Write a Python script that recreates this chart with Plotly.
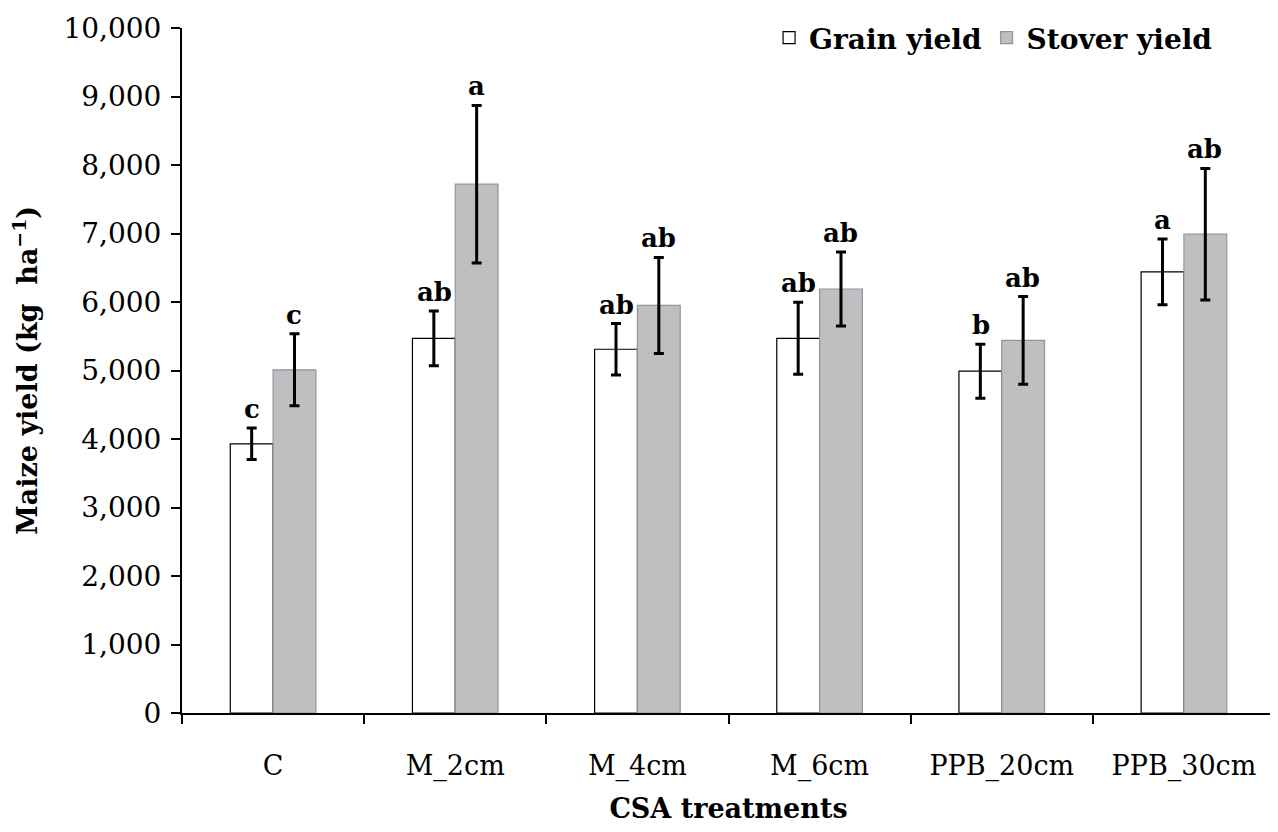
import plotly.graph_objects as go

categories = ["C", "M_2cm", "M_4cm", "M_6cm", "PPB_20cm", "PPB_30cm"]
grain = [3930, 5470, 5310, 5470, 4990, 6440]
grain_err = [230, 400, 375, 525, 395, 480]
stover = [5010, 7720, 5950, 6190, 5440, 6990]
stover_err = [525, 1150, 700, 540, 640, 960]
grain_letters = ["c", "ab", "ab", "ab", "b", "a"]
stover_letters = ["c", "a", "ab", "ab", "ab", "ab"]

FONT = "DejaVu Serif"

fig = go.Figure()
fig.add_trace(go.Bar(
    name="<b>Grain yield</b>", x=categories, y=grain,
    marker=dict(color="white", line=dict(color="black", width=1.2)),
    error_y=dict(type="data", array=grain_err, color="black", thickness=3, width=5),
))
fig.add_trace(go.Bar(
    name="<b>Stover yield</b>", x=categories, y=stover,
    marker=dict(color="#BFBFBF", line=dict(color="#8A97A8", width=1.2)),
    error_y=dict(type="data", array=stover_err, color="black", thickness=3, width=5),
))

for cat, v, e, t in zip(categories, grain, grain_err, grain_letters):
    fig.add_annotation(x=cat, y=v + e, text=f"<b>{t}</b>", showarrow=False,
                       xref="x", yref="y", xshift=-21, yshift=2, yanchor="bottom",
                       font=dict(family=FONT, size=26, color="black"))
for cat, v, e, t in zip(categories, stover, stover_err, stover_letters):
    fig.add_annotation(x=cat, y=v + e, text=f"<b>{t}</b>", showarrow=False,
                       xref="x", yref="y", xshift=21, yshift=2, yanchor="bottom",
                       font=dict(family=FONT, size=26, color="black"))

fig.update_layout(
    width=1270, height=816,
    margin=dict(l=174, r=3, t=20, b=111),
    paper_bgcolor="white", plot_bgcolor="white",
    barmode="group", bargap=0.53, bargroupgap=0,
    font=dict(family=FONT, size=26, color="black"),
    showlegend=True,
    legend=dict(orientation="h", x=0.947, xanchor="right", y=1.022, yanchor="top",
                font=dict(family=FONT, size=28, color="black"),
                bgcolor="rgba(0,0,0,0)", itemwidth=30, traceorder="normal"),
    xaxis=dict(
        type="category", tickson="boundaries", ticks="outside", ticklen=9, tickwidth=2,
        tickcolor="black", showline=True, linecolor="black", linewidth=2,
        showgrid=False, ticklabelstandoff=28, automargin=False,
        tickfont=dict(family=FONT, size=27),
        title=dict(text="<b>CSA treatments</b>", standoff=26,
                   font=dict(family=FONT, size=27)),
    ),
    yaxis=dict(
        range=[0, 10000], dtick=1000, tickformat=",", ticks="outside", ticklen=9,
        tickwidth=2, tickcolor="black", showline=True, linecolor="black", linewidth=2,
        showgrid=False, zeroline=False, ticklabelstandoff=4, automargin=False,
        tickfont=dict(family=FONT, size=28),
        title=dict(text="<b>Maize yield (kg  ha<sup>−1</sup>)</b>", standoff=18,
                   font=dict(family=FONT, size=27)),
    ),
)

fig.write_html("out.html")
